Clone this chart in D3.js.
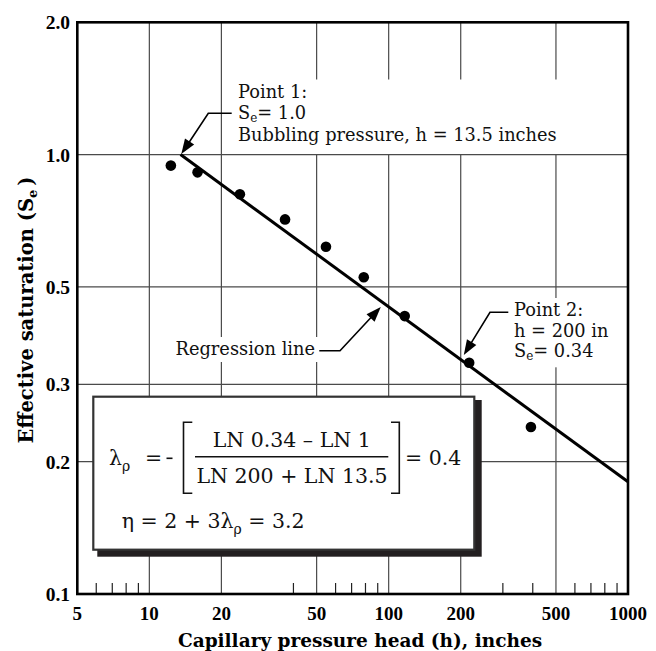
<!DOCTYPE html>
<html>
<head>
<meta charset="utf-8">
<script src="https://cdn.jsdelivr.net/npm/d3@7"></script>
<style>
  html, body { margin: 0; padding: 0; background: #fff; }
  svg { display: block; }
</style>
</head>
<body>
<svg id="chart" width="656" height="651"></svg>
<script>
// ---------- data ----------
const pressureHead = [12.3, 15.9, 23.9, 36.9, 54.7, 78.7, 116.7, 217, 393];
const saturation   = [0.944, 0.911, 0.812, 0.712, 0.617, 0.526, 0.429, 0.336, 0.240];
const regressionH  = [13.5, 1000];
const regressionSe = [1.0, 0.18];
const xTickValues  = [5, 10, 20, 50, 100, 200, 500, 1000];
const xTickLabels  = ["5", "10", "20", "50", "100", "200", "500", "1000"];
const xGridValues  = [10, 20, 50, 100, 200, 500];
const xMinorTicks  = [6, 7, 8, 9, 40, 60, 70, 80, 90, 300, 400, 600, 700, 800, 900];
const yTickValues  = [0.1, 0.2, 0.3, 0.5, 1.0, 2.0];
const yTickLabels  = ["0.1", "0.2", "0.3", "0.5", "1.0", "2.0"];
const yGridValues  = [0.2, 0.3, 0.5, 1.0];
const point1 = [13.6, 1.0];
const point2 = [206, 0.35];
const regressionPointer = [92.7, 0.45];

// ---------- layout ----------
const svg = d3.select("#chart");
const L = 77.3, R = 628, T = 22.3, B = 594;
const x = d3.scaleLog().domain([5, 1000]).range([L, R]);
const y = d3.scaleLog().domain([0.1, 2]).range([B, T]);

const serif = "Liberation Serif, Times New Roman, serif";
const wide = "DejaVu Serif, serif";

// gridlines
const grid = svg.append("g").attr("stroke", "#4a4a4a").attr("stroke-width", 1.2);
grid.selectAll("line.vx").data(xGridValues).join("line")
  .attr("x1", d => x(d)).attr("x2", d => x(d)).attr("y1", T).attr("y2", B);
grid.selectAll("line.hy").data(yGridValues).join("line")
  .attr("y1", d => y(d)).attr("y2", d => y(d)).attr("x1", L).attr("x2", R);

// minor ticks (bottom, inside)
svg.append("g").attr("stroke", "#222").attr("stroke-width", 1.2)
  .selectAll("line").data(xMinorTicks).join("line")
  .attr("x1", d => x(d)).attr("x2", d => x(d)).attr("y1", B).attr("y2", B - 11);

// tick labels
svg.append("g").selectAll("text").data(xTickValues).join("text")
  .attr("x", d => x(d)).attr("y", 620).attr("text-anchor", "middle")
  .attr("font-family", serif).attr("font-weight", "bold").attr("font-size", 19)
  .text((d, i) => xTickLabels[i]);
svg.append("g").selectAll("text").data(yTickValues).join("text")
  .attr("x", 70).attr("y", d => y(d) + 7).attr("text-anchor", "end")
  .attr("font-family", serif).attr("font-weight", "bold").attr("font-size", 19.5)
  .text((d, i) => yTickLabels[i]);

// axis titles
svg.append("text").attr("x", 360).attr("y", 646.5).attr("text-anchor", "middle")
  .attr("font-family", wide).attr("font-weight", "bold").attr("font-size", 18.5)
  .text("Capillary pressure head (h), inches");
const yt = svg.append("text").attr("transform", "translate(33,310) rotate(-90)")
  .attr("text-anchor", "middle")
  .attr("font-family", wide).attr("font-weight", "bold").attr("font-size", 19.5);
yt.append("tspan").text("Effective saturation (S");
yt.append("tspan").attr("font-size", 13).attr("dy", 4).text("e");
yt.append("tspan").attr("dy", -4).text("\u2009)");

// annotation text blocks (with white backgrounds)
const bgLayer = svg.append("g");
const textLayer = svg.append("g");

function block(x0, anchor, baselines, lines, padBottom) {
  const g = textLayer.append("g");
  lines.forEach((ln, i) => {
    const t = g.append("text").attr("x", x0).attr("y", baselines[i])
      .attr("text-anchor", anchor)
      .attr("font-family", wide).attr("font-size", 17.8).attr("fill", "#111");
    ln.forEach(seg => {
      const s = t.append("tspan").text(seg.t);
      if (seg.sub) s.attr("font-size", 12).attr("dy", 3);
      if (seg.up) s.attr("dy", -3);
    });
  });
  const bb = g.node().getBBox();
  bgLayer.append("rect").attr("x", bb.x - 3).attr("y", bb.y - 1)
    .attr("width", bb.width + 6).attr("height", bb.height + 2 + (padBottom || 0))
    .attr("fill", "#fff");
}

block(238, "start", [97.5, 118.5, 141], [
  [{t: "Point 1:"}],
  [{t: "S"}, {t: "e", sub: true}, {t: "= 1.0", up: true}],
  [{t: "Bubbling pressure, h = 13.5 inches"}]
], 8);
block(514, "start", [316, 336.7, 357.3], [
  [{t: "Point 2:"}],
  [{t: "h = 200 in"}],
  [{t: "S"}, {t: "e", sub: true}, {t: "= 0.34", up: true}]
], 3);
block(315, "end", [355], [[{t: "Regression line"}]], 2);

// frame
svg.append("rect").attr("x", L).attr("y", T).attr("width", R - L).attr("height", B - T)
  .attr("fill", "none").attr("stroke", "#000").attr("stroke-width", 2.6);

// regression line
const lineGen = d3.line().x(d => x(d[0])).y(d => y(d[1]));
svg.append("path").datum(d3.zip(regressionH, regressionSe))
  .attr("d", lineGen).attr("fill", "none").attr("stroke", "#000").attr("stroke-width", 3);

// data points
svg.append("g").selectAll("circle").data(d3.zip(pressureHead, saturation)).join("circle")
  .attr("cx", d => x(d[0])).attr("cy", d => y(d[1])).attr("r", 5.3).attr("fill", "#000");

// connectors with arrowheads
function connector(pts) {
  const n = pts.length;
  const [tx, ty] = pts[n - 1], [px, py] = pts[n - 2];
  const dx = tx - px, dy = ty - py, len = Math.hypot(dx, dy);
  const ux = dx / len, uy = dy / len, hl = 15, hw = 5.5;
  const bx = tx - ux * hl, by = ty - uy * hl;
  const path = d3.path();
  path.moveTo(pts[0][0], pts[0][1]);
  for (let i = 1; i < n - 1; i++) path.lineTo(pts[i][0], pts[i][1]);
  path.lineTo(bx + ux * 2, by + uy * 2);
  svg.append("path").attr("d", path.toString()).attr("fill", "none")
    .attr("stroke", "#000").attr("stroke-width", 1.6);
  svg.append("polygon")
    .attr("points", [[tx, ty], [bx - uy * hw, by + ux * hw], [bx + uy * hw, by - ux * hw]].map(p => p.join(",")).join(" "))
    .attr("fill", "#000");
}
connector([[231.7, 113.3], [208.3, 113.3], [x(point1[0]), y(point1[1]) - 0.5]]);
connector([[508.3, 312.3], [490, 312.3], [x(point2[0]), y(point2[1])]]);
connector([[319.3, 350.7], [340, 350.7], [x(regressionPointer[0]), y(regressionPointer[1])]]);

// formula box
const box = svg.append("g");
box.append("rect").attr("x", 97.3).attr("y", 400).attr("width", 481.7 - 97.3).attr("height", 556.7 - 400)
  .attr("fill", "#231f20");
box.append("rect").attr("x", 93.3).attr("y", 396.7).attr("width", 474.3 - 93.3).attr("height", 549.7 - 396.7)
  .attr("fill", "#fff").attr("stroke", "#333").attr("stroke-width", 2.2);

const FS = 20.5;
const ft = box.append("g").attr("font-family", wide).attr("font-size", FS).attr("fill", "#111");
// lambda_rho = -
const l1 = ft.append("text").attr("x", 109).attr("y", 465);
l1.append("tspan").text("\u03BB");
l1.append("tspan").attr("font-size", 14).attr("dy", 6).text("\u03C1");
ft.append("text").attr("x", 145).attr("y", 465).text("=");
box.append("line").attr("x1", 166.5).attr("x2", 172.5).attr("y1", 458.3).attr("y2", 458.3)
  .attr("stroke", "#111").attr("stroke-width", 1.6);
// brackets
const br = box.append("g").attr("fill", "none").attr("stroke", "#111").attr("stroke-width", 1.6);
br.append("path").attr("d", "M192.3,422.3 H183.5 V493.3 H192.3");
br.append("path").attr("d", "M391,422.3 H399.3 V493.3 H391");
// fraction
box.append("line").attr("x1", 195).attr("x2", 388.3).attr("y1", 456.7).attr("y2", 456.7)
  .attr("stroke", "#111").attr("stroke-width", 1.4);
ft.append("text").attr("x", 291.7).attr("y", 446.7).attr("text-anchor", "middle").text("LN 0.34 \u2013 LN 1");
ft.append("text").attr("x", 292).attr("y", 483.3).attr("text-anchor", "middle").text("LN 200 + LN 13.5");
ft.append("text").attr("x", 405).attr("y", 465).text("= 0.4");
// eta line
const l2 = ft.append("text").attr("x", 121.7).attr("y", 528.3);
l2.append("tspan").text("\u03B7 = 2 + 3\u03BB");
l2.append("tspan").attr("font-size", 14).attr("dy", 6).text("\u03C1");
l2.append("tspan").attr("dy", -6).text(" = 3.2");
</script>
</body>
</html>
